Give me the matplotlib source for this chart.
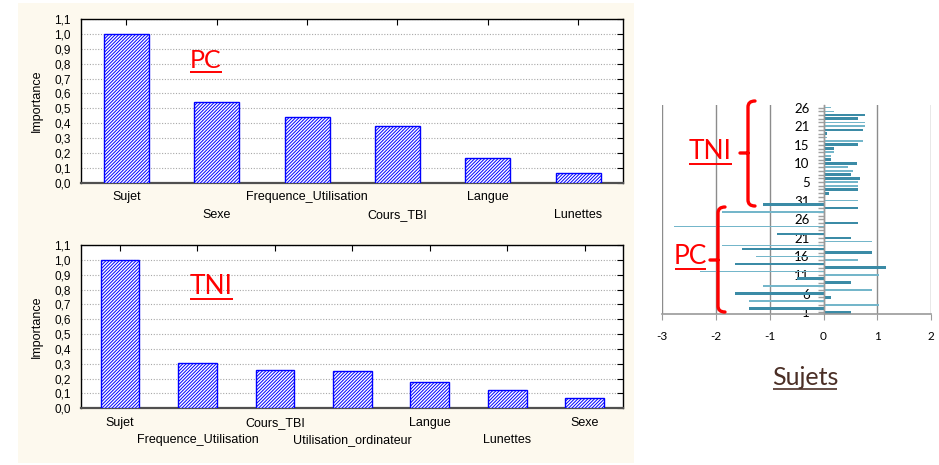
import matplotlib
matplotlib.use("Agg")
import matplotlib.pyplot as plt
from matplotlib.path import Path
from matplotlib.patches import PathPatch, Rectangle
import numpy as np

W, H = 939, 465

# Variable importance, PC group
pc_vars = ["Sujet", "Sexe", "Frequence_Utilisation", "Cours_TBI", "Langue", "Lunettes"]
pc_importance = [1.00, 0.544, 0.444, 0.383, 0.164, 0.063]

# Variable importance, TNI group
tni_vars = ["Sujet", "Frequence_Utilisation", "Cours_TBI", "Utilisation_ordinateur",
            "Langue", "Lunettes", "Sexe"]
tni_importance = [1.00, 0.303, 0.256, 0.249, 0.175, 0.121, 0.067]

# Subject effects (PC subjects 1-31, then TNI subjects)
pc_subject_effects = [0.51, -1.39, 1.03, -1.39, 0.14, -1.64, 0.90, -1.13, 0.51, -0.50,
                      1.03, -2.29, 1.16, -1.64, 0.65, -1.26, 0.90, -1.52, -1.89, 0.90,
                      0.51, -0.87, 0.0, -2.79, 0.65, 0.0, 0.0, -1.89, 0.65, -1.13, 0.65]
tni_subject_effects = [0.03, 0.11, 0.65, 0.65, 0.65, 0.68, 0.51, 0.54, 0.46, 0.63,
                       0.14, 0.14, 0.20, 0.19, 0.65, 0.73, 0.07, 0.07, 0.74, 0.78,
                       0.78, 0.65, 0.78, 0.19, 0.14]
pc_tick_subjects = [1, 6, 11, 16, 21, 26, 31]
pc_tick_labels = ["1", "6", "11", "16", "21", "26", "31"]
tni_tick_subjects = [5, 10, 15, 20, 25]
tni_tick_labels = ["5", "10", "15", "21", "26"]
x_ticks = [-3, -2, -1, 0, 1, 2]
x_tick_labels = ["-3", "-2", "-1", "0", "1", "2"]

CREAM = "#fdf9ee"
BLUE = "#0000ff"
RED = "#ff0000"
DARK_TEAL = "#3b8ba6"
LIGHT_TEAL = "#74b6ca"
ARIAL = ["Liberation Sans", "DejaVu Sans"]
HUMANIST = ["Lato", "DejaVu Sans"]

plt.rcParams["hatch.linewidth"] = 0.7

fig = plt.figure(figsize=(W / 100, H / 100), dpi=100)
fig.patch.set_facecolor("white")


def px_rect(x0, y0, x1, y1):
    return [x0 / W, 1 - y1 / H, (x1 - x0) / W, (y1 - y0) / H]


# cream panel behind the two importance charts
fig.add_artist(Rectangle((18 / W, 1 - 463 / H), (634 - 18) / W, (463 - 3) / H,
                         transform=fig.transFigure, facecolor=CREAM,
                         edgecolor="none", zorder=-5))


def importance_chart(rect, names, values):
    ax = fig.add_axes(rect)
    ax.set_facecolor("white")
    x = np.arange(len(names))
    ax.bar(x, values, width=0.5, facecolor="white", edgecolor=BLUE,
           hatch="/" * 10, linewidth=1.0, zorder=3)
    ax.set_xlim(-0.5, len(names) - 0.5)
    ax.set_ylim(0, 1.1)
    yt = np.round(np.arange(0, 1.1001, 0.1), 1)
    ax.set_yticks(yt)
    ax.set_yticklabels([f"{v:.1f}".replace(".", ",") for v in yt],
                       fontfamily=ARIAL, fontsize=8.5)
    ax.yaxis.grid(True, linestyle=(0, (1, 1.5)), color="#a8a8a8", linewidth=0.8)
    ax.set_axisbelow(True)
    ax.tick_params(axis="y", left=False, right=True, direction="in",
                   length=4, pad=7.5, colors="black")
    ax.set_xticks(x)
    ax.tick_params(axis="x", top=True, bottom=True, direction="in", length=4,
                   labelbottom=False)
    for s in ["top", "left", "right"]:
        ax.spines[s].set_color("black")
        ax.spines[s].set_linewidth(1.0)
    ax.spines["bottom"].set_color("#505050")
    ax.spines["bottom"].set_linewidth(1.6)
    for i, name in enumerate(names):
        off = 10.3 if i % 2 == 0 else 23.0
        ax.annotate(name, xy=(i, 0), xycoords=("data", "axes fraction"),
                    xytext=(0, -off), textcoords="offset points",
                    ha="center", va="center", fontsize=9, fontfamily=ARIAL)
    ax.set_ylabel("Importance", fontsize=9, fontfamily=ARIAL)
    ax.yaxis.set_label_coords(-0.071, 0.5)
    return ax


ax_pc = importance_chart(px_rect(81.3, 19, 623.3, 182.7), pc_vars, pc_importance)
ax_tni = importance_chart(px_rect(81.3, 245, 623.3, 408.3), tni_vars, tni_importance)

# subject effects chart
ax_r = fig.add_axes(px_rect(662.3, 105, 931, 314))
effects = pc_subject_effects + tni_subject_effects
rows = np.arange(1, len(effects) + 1)
is_dark = [((i // 2) % 2) == 0 for i in range(len(effects))]
colors = [DARK_TEAL if d else LIGHT_TEAL for d in is_dark]
heights = [0.72 if d else 0.42 for d in is_dark]
ax_r.barh(rows, effects, height=heights, color=colors, zorder=2)
ax_r.set_xlim(-3, 2)
ax_r.set_ylim(0.55, 56.7)
ax_r.set_facecolor("white")
ax_r.spines["top"].set_visible(False)
ax_r.spines["right"].set_visible(False)
ax_r.spines["left"].set_position(("data", 0))
ax_r.spines["left"].set_color("#9a9a9a")
ax_r.spines["left"].set_linewidth(1.0)
ax_r.spines["left"].set_zorder(3)
ax_r.spines["bottom"].set_color("#9a9a9a")
ax_r.spines["bottom"].set_linewidth(1.2)
ax_r.set_xticks(x_ticks)
ax_r.set_xticklabels(x_tick_labels, fontfamily=HUMANIST, fontsize=8.5)
ax_r.tick_params(axis="x", direction="out", length=4, color="#9a9a9a", pad=8)
ax_r.xaxis.grid(True, color="#8c8c8c", linewidth=1.0, zorder=0)
ax_r.set_axisbelow(True)
n_pc = len(pc_subject_effects)
major_rows = pc_tick_subjects + [n_pc + s for s in tni_tick_subjects]
ax_r.set_yticks(major_rows)
ax_r.set_yticklabels(pc_tick_labels + tni_tick_labels, fontfamily=HUMANIST,
                     fontsize=9.5)
ax_r.set_yticks(rows, minor=True)
ax_r.tick_params(axis="y", which="both", direction="out", length=4,
                 color="#a0a0a0", width=1.0, pad=6)

# overlay in pixel coordinates for group annotations
ov = fig.add_axes([0, 0, 1, 1], zorder=10)
ov.set_xlim(0, W)
ov.set_ylim(H, 0)
ov.axis("off")
ov.patch.set_alpha(0)


def underlined(x, y, s, size, color, x0, x1, yline, lw=1.4):
    ov.text(x, y, s, fontsize=size, color=color, fontfamily=HUMANIST,
            ha="center", va="center")
    ov.plot([x0, x1], [yline, yline], color=color, lw=lw, solid_capstyle="butt")


def brace(x, top, bottom, mid, hook=7, nub=8, r=6):
    verts = [(x + hook, top), (x, top), (x, top + r),
             (x, bottom - r),
             (x, bottom), (x + hook, bottom),
             (x, mid), (x - nub, mid)]
    codes = [Path.MOVETO, Path.CURVE3, Path.CURVE3,
             Path.LINETO,
             Path.CURVE3, Path.CURVE3,
             Path.MOVETO, Path.LINETO]
    ov.add_patch(PathPatch(Path(verts, codes), facecolor="none", edgecolor=RED,
                           lw=2.4, capstyle="round", joinstyle="round"))


underlined(206, 61, "PC", 18, RED, 190, 222, 72.5)
underlined(211.5, 286.5, "TNI", 19, RED, 190, 233, 298.5)
underlined(710.5, 151, "TNI", 19, RED, 689, 732, 164)
underlined(690.5, 256.5, "PC", 19, RED, 675, 706, 269)
brace(748, 101, 206, 153)
brace(718, 207, 312, 260)
underlined(805, 377, "Sujets", 18, "#4b2f26", 773, 837, 389, lw=1.2)

fig.savefig("out.png", dpi=100, facecolor="white")
